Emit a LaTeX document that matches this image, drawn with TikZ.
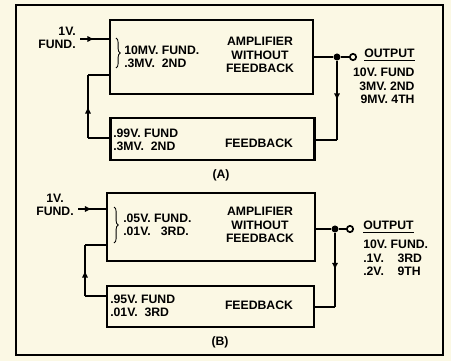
\documentclass[tikz,border=0pt]{standalone}
\usepackage{fontspec}
\setmainfont{Liberation Sans}
\usetikzlibrary{positioning, arrows.meta, decorations.markings, decorations.pathreplacing}
\definecolor{paper}{HTML}{FBF8E4}

\begin{document}
\begin{tikzpicture}[x=0.025cm, y=-0.025cm,
        block/.style={rectangle, draw=black, line width=1.5pt, inner sep=0pt},
        txt/.style={font=\fontsize{8.7}{9.6}\selectfont\bfseries, inner sep=0pt, align=left},
        wire/.style={line width=1.5pt, draw=black},
        mid arrow/.style={postaction={decorate}, decoration={markings, mark=at position 0.5 with {\arrow{Latex[length=5pt, width=4.5pt]}}}},
        dot/.style={circle, fill=black, inner sep=0pt, minimum size=5pt},
        terminal/.style={circle, draw=black, fill=paper, line width=1.2pt, inner sep=0pt, minimum size=4.5pt},
        bracket/.style={decorate, decoration={brace, amplitude=3pt}, line width=0.6pt}
    ]
    \fill[paper] (0,0) rectangle (451,361);
    \draw[line width=1.6pt] (16,5) rectangle (443,355);

    % Panel A: amplifier
    \node[block, minimum width=5.075cm, minimum height=1.85cm] (ampA) at (211.5,57) {};
    \node[txt, align=center] (ampA_text) at (260,55) {AMPLIFIER\\WITHOUT\\FEEDBACK};
    \node[txt, anchor=west] (sumA) at (124,57) {10MV. FUND.\\.3MV.\ \ 2ND};
    \draw[bracket] (116,38) -- (116,68);

    % Panel A: feedback
    \node[block, minimum width=5.1cm, minimum height=1.05cm] (fbA) at (212.5,139) {};
    \node[txt] (fbA_text) at (259,143) {FEEDBACK};
    \node[txt, anchor=west] (fbA_vals) at (113,140) {.99V. FUND\\.3MV.\ \ 2ND};

    % Panel A: input
    \node[txt, align=right, anchor=east] (inA) at (76,38) {1V.\\FUND.};
    \coordinate (inA_end) at (80,39);
    \draw[wire, mid arrow] (inA_end) -- (ampA.west |- inA_end);

    % Panel A: feedback loop
    \coordinate (loopA_top) at (88,75);
    \coordinate (loopA_bot) at (88,138);
    \draw[wire] (ampA.west |- loopA_top) -- (loopA_top);
    \draw[wire, mid arrow] (loopA_bot) -- (loopA_top);
    \draw[wire] (loopA_bot) -- (fbA.west |- loopA_bot);

    % Panel A: output
    \node[dot] (jA) at (337,57) {};
    \node[terminal] (outA) at (353,57) {};
    \coordinate (loopA_right) at (337,140);
    \draw[wire] (ampA.east |- jA) -- (jA) -- (outA);
    \draw[wire, mid arrow] (jA) -- (loopA_right);
    \draw[wire] (loopA_right) -- (fbA.east |- loopA_right);
    \node[txt, anchor=west] (outlabA) at (364,55) {\underline{OUTPUT}};
    \node[txt, align=right, below=5pt of outlabA.south east, anchor=north east] (outvalA) {10V. FUND\\3MV. 2ND\\9MV. 4TH};
    \node[txt] (capA) at (221,175) {(A)};

    % Panel B: amplifier
    \node[block, minimum width=5.2cm, minimum height=1.7cm] (ampB) at (211,227) {};
    \node[txt, align=center] (ampB_text) at (260,225) {AMPLIFIER\\WITHOUT\\FEEDBACK};
    \node[txt, anchor=west] (sumB) at (123,225) {.05V. FUND.\\.01V.\ \ \ 3RD.};
    \draw[bracket] (114,207) -- (114,243);

    % Panel B: feedback
    \node[block, minimum width=5.175cm, minimum height=1.025cm] (fbB) at (210.5,306.5) {};
    \node[txt] (fbB_text) at (259,305) {FEEDBACK};
    \node[txt, anchor=west] (fbB_vals) at (110,306) {.95V. FUND\\.01V.\ \ 3RD};

    % Panel B: input
    \node[txt, align=center, anchor=east] (inB) at (74,205) {1V.\\FUND.};
    \coordinate (inB_end) at (78,209);
    \draw[wire, mid arrow] (inB_end) -- (ampB.west |- inB_end);

    % Panel B: feedback loop
    \coordinate (loopB_top) at (85,245);
    \coordinate (loopB_bot) at (85,296);
    \draw[wire] (ampB.west |- loopB_top) -- (loopB_top);
    \draw[wire, mid arrow] (loopB_bot) -- (loopB_top);
    \draw[wire] (loopB_bot) -- (fbB.west |- loopB_bot);

    % Panel B: output
    \node[dot] (jB) at (335,229) {};
    \node[terminal] (outB) at (350,229) {};
    \coordinate (loopB_right) at (335,307);
    \draw[wire] (ampB.east |- jB) -- (jB) -- (outB);
    \draw[wire, mid arrow] (jB) -- (loopB_right);
    \draw[wire] (loopB_right) -- (fbB.east |- loopB_right);
    \node[txt, anchor=west] (outlabB) at (363,227) {\underline{OUTPUT}};
    \node[txt, below=5pt of outlabB.south west, anchor=north west] (outvalB) {10V. FUND.\\.1V.\ \ \ \ 3RD\\.2V.\ \ \ \ 9TH};
    \node[txt] (capB) at (220,342) {(B)};

    \end{tikzpicture}
\end{document}
